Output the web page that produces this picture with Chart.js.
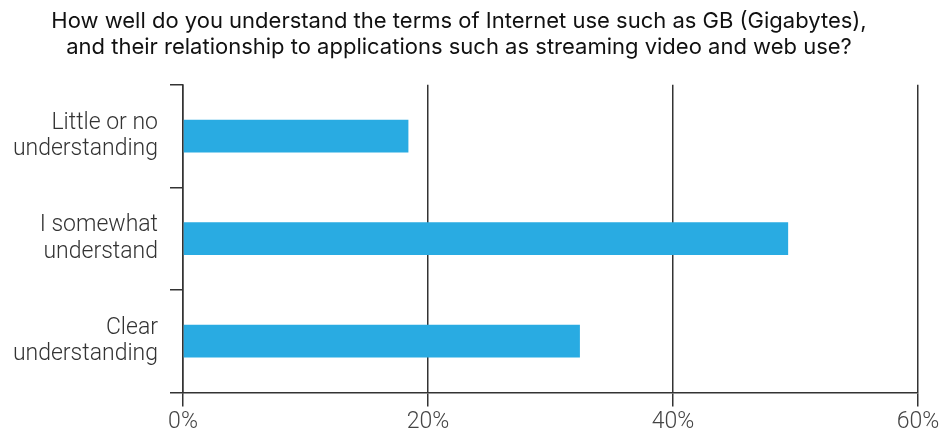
<!DOCTYPE html>
<html>
<head>
<meta charset="utf-8">
<script src="https://cdn.jsdelivr.net/npm/chart.js@4"></script>
<style>
html,body{margin:0;padding:0;background:#fff;}
#wrap{width:944px;height:438px;}
</style>
</head>
<body>
<div id="wrap"><canvas id="c" width="944" height="438"></canvas></div>
<script>
const titleLines = [
  "How well do you understand the terms of Internet use such as GB (Gigabytes),",
  "and their relationship to applications such as streaming video and web use?"
];
const categories = [
  ["Little or no", "understanding"],
  ["I somewhat", "understand"],
  ["Clear", "understanding"]
];
const values = [18.4, 49.4, 32.4];
const xTicks = [0, 20, 40, 60];

const ctx = document.getElementById('c');
new Chart(ctx, {
  type: 'bar',
  data: {
    labels: categories,
    datasets: [{
      data: values,
      backgroundColor: '#29abe2',
      borderWidth: 0,
      barPercentage: 0.32,
      categoryPercentage: 1
    }]
  },
  options: {
    indexAxis: 'y',
    responsive: false,
    animation: false,
    layout: { padding: { left: 0, right: 26, top: 8, bottom: 0 } },
    plugins: {
      legend: { display: false },
      tooltip: { enabled: false },
      title: {
        display: true,
        text: titleLines,
        color: '#111',
        font: { family: 'Inter, Liberation Sans, Arial, sans-serif', size: 22, weight: 'normal', lineHeight: 1.2 },
        padding: { top: 0, bottom: 24 }
      }
    },
    scales: {
      x: {
        min: 0, max: 60,
        afterBuildTicks: s => { s.ticks = xTicks.map(v => ({ value: v })); },
        ticks: {
          callback: v => v + '%',
          color: '#444',
          font: { family: 'Roboto, sans-serif', size: 23, weight: 300 },
          padding: 2,
          maxRotation: 0
        },
        grid: { color: '#333', lineWidth: 1.5, tickLength: 14, drawOnChartArea: true },
        border: { display: true, color: '#333', width: 1.5 }
      },
      y: {
        afterFit: s => { s.width = 183; },
        ticks: {
          color: '#333',
          font: { family: 'Roboto, sans-serif', size: 23, weight: 300, lineHeight: 1.15 },
          padding: 12
        },
        grid: { offset: true, drawOnChartArea: false, color: '#333', lineWidth: 1.5, tickLength: 13 },
        border: { display: true, color: '#333', width: 1.5 }
      }
    }
  }
});
</script>
</body>
</html>
